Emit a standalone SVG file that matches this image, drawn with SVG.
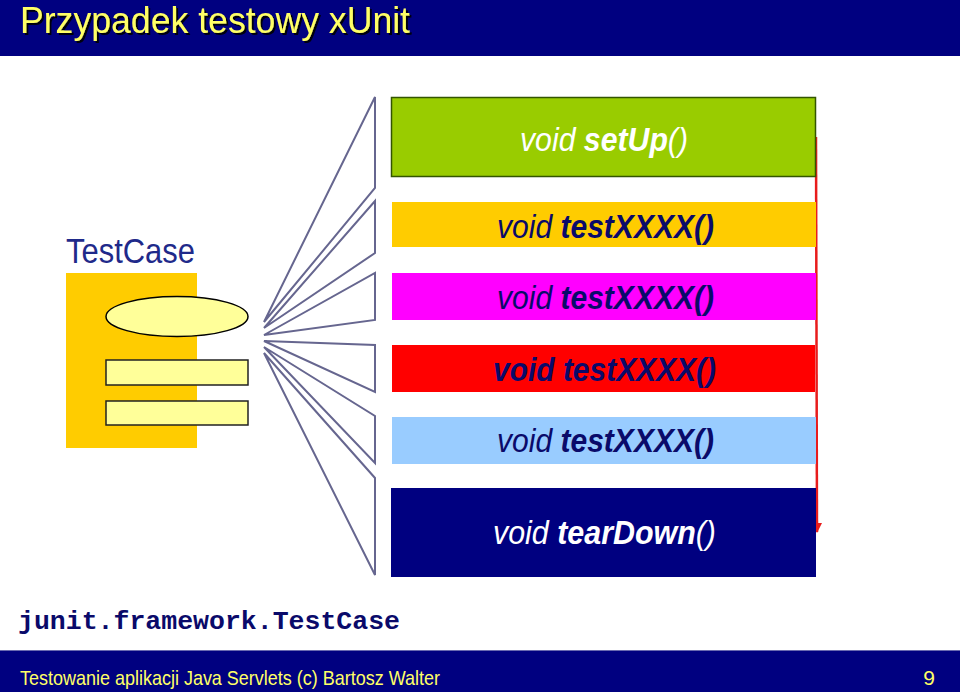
<svg xmlns="http://www.w3.org/2000/svg" width="960" height="692" viewBox="0 0 960 692">
<defs>
<style>
.sans{font-family:"Liberation Sans",Arial,sans-serif}
.mono{font-family:"Liberation Mono","Courier New",monospace}
.it{font-style:italic}
.b{font-weight:bold}
.fan{fill:none;stroke:#66668f;stroke-width:2;stroke-linejoin:miter}
.navy{fill:#0a0a6a}
</style>
<filter id="shadow" x="-5%" y="-20%" width="110%" height="150%">
<feDropShadow dx="2" dy="2" stdDeviation="0.5" flood-color="#000000" flood-opacity="0.9"/>
</filter>
<marker id="ah" viewBox="0 0 10 10" refX="9" refY="5" markerWidth="4" markerHeight="4" orient="auto" markerUnits="strokeWidth">
<path d="M0,0 L10,5 L0,10 z" fill="#e81c1c"/>
</marker>
</defs>
<rect width="960" height="692" fill="#ffffff"/>
<g id="header">
<rect x="0" y="0" width="960" height="56" fill="#000080"/>
<text class="sans" x="20" y="33" font-size="36" fill="#ffff66" filter="url(#shadow)" textLength="390" lengthAdjust="spacingAndGlyphs">Przypadek testowy xUnit</text>
</g>
<g id="testcase">
<text class="sans" x="66" y="263" font-size="35" fill="#1f2a8a" textLength="129" lengthAdjust="spacingAndGlyphs">TestCase</text>
<rect x="66" y="273" width="131" height="175" fill="#ffcc00"/>
<ellipse cx="177" cy="316.5" rx="71" ry="20" fill="#ffff99" stroke="#000" stroke-width="1.5"/>
<rect x="106" y="360" width="142" height="25" fill="#ffff99" stroke="#222" stroke-width="1.5"/>
<rect x="106" y="401" width="142" height="24" fill="#ffff99" stroke="#222" stroke-width="1.5"/>
</g>
<g id="connectors">
<polygon class="fan" points="375,97 375,188 264,322"/>
<polygon class="fan" points="375,201 375,253 264,328"/>
<polygon class="fan" points="375,273 375,320 264,335"/>
<polygon class="fan" points="375,345 375,392 264,341"/>
<polygon class="fan" points="375,416 375,463 264,347"/>
<polygon class="fan" points="375,478 375,575 264,353"/>
<line x1="816" y1="137" x2="817" y2="532" stroke="#e81c1c" stroke-width="2.5" marker-end="url(#ah)"/>
</g>
<g id="setup">
<rect x="391.5" y="97.5" width="424" height="79" fill="#99cc00" stroke="#335500" stroke-width="1.5"/>
<text class="sans it" x="520" y="151" font-size="34" fill="#ffffff" textLength="168" lengthAdjust="spacingAndGlyphs">void <tspan class="b">setUp</tspan>()</text>
</g>
<g id="test1">
<rect x="392" y="202" width="424" height="45" fill="#ffcc00"/>
<text class="sans it navy" x="497" y="238" font-size="33" textLength="217" lengthAdjust="spacingAndGlyphs">void <tspan class="b">testXXXX()</tspan></text>
</g>
<g id="test2">
<rect x="392" y="273" width="424" height="47" fill="#ff00ff"/>
<text class="sans it navy" x="497" y="309" font-size="33" textLength="217" lengthAdjust="spacingAndGlyphs">void <tspan class="b">testXXXX()</tspan></text>
</g>
<g id="test3">
<rect x="392" y="345" width="423" height="47" fill="#ff0000"/>
<text class="sans it b navy" x="493" y="381" font-size="33" textLength="223" lengthAdjust="spacingAndGlyphs">void testXXXX()</text>
</g>
<g id="test4">
<rect x="392" y="417" width="424" height="47" fill="#99ccff"/>
<text class="sans it navy" x="497" y="452" font-size="33" textLength="217" lengthAdjust="spacingAndGlyphs">void <tspan class="b">testXXXX()</tspan></text>
</g>
<g id="teardown">
<rect x="391" y="488" width="425" height="89" fill="#000080"/>
<text class="sans it" x="493" y="544" font-size="34" fill="#ffffff" textLength="223" lengthAdjust="spacingAndGlyphs">void <tspan class="b">tearDown</tspan>()</text>
</g>
<g id="classname">
<text class="mono b navy" x="18" y="629" font-size="26" textLength="382" lengthAdjust="spacingAndGlyphs">junit.framework.TestCase</text>
</g>
<g id="footer">
<rect x="0" y="650" width="960" height="42" fill="#000080"/>
<line x1="0" y1="650.5" x2="960" y2="650.5" stroke="#6a6ab0" stroke-width="1"/>
<text class="sans" x="20" y="685" font-size="21" fill="#ffff66" textLength="420" lengthAdjust="spacingAndGlyphs">Testowanie aplikacji Java Servlets (c) Bartosz Walter</text>
<text class="sans" x="935" y="685" font-size="21" fill="#ffff66" text-anchor="end">9</text>
</g>
</svg>
